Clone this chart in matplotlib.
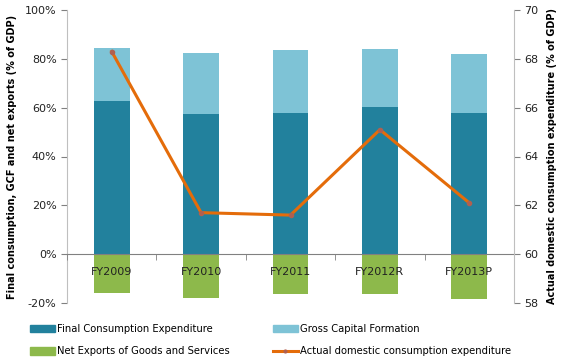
# FY2009-FY2013 GDP composition with actual domestic consumption on twin axis
import matplotlib.pyplot as plt
import numpy as np
from matplotlib.patches import Patch
from matplotlib.lines import Line2D

plt.rcParams['font.family'] = ['DejaVu Sans']

years = ['FY2009', 'FY2010', 'FY2011', 'FY2012R', 'FY2013P']
final_cons = [62.8, 57.4, 57.9, 60.4, 57.9]      # % of GDP
gross_cap = [21.7, 24.9, 25.7, 23.6, 24.1]       # % of GDP
net_exports = [-15.9, -17.9, -16.4, -16.4, -18.3]  # % of GDP
actual_dom = [68.3, 61.7, 61.6, 65.1, 62.1]      # right axis

c_fce = '#22819d'
c_gcf = '#7ec3d6'
c_nx = '#8db94b'
c_line = '#e46c0a'
grey = '#bfbfbf'

fig = plt.figure(figsize=(5.68, 3.6), dpi=100)
ax = fig.add_axes([67/568, 1-303/360, (514-67)/568, (303-10)/360])
ax2 = ax.twinx()

x = np.arange(len(years))
w = 0.4
ax.bar(x, final_cons, w, color=c_fce, zorder=2)
ax.bar(x, gross_cap, w, bottom=final_cons, color=c_gcf, zorder=2)
ax.bar(x, net_exports, w, color=c_nx, zorder=2)

ax.set_xlim(-0.5, len(years)-0.5)
ax.set_ylim(-20, 100)
ax.set_yticks(np.arange(-20, 101, 20))
ax.set_yticklabels([f'{v}%' for v in range(-20, 101, 20)])

# x axis sits on the zero line
ax.spines['bottom'].set_position(('data', 0))
ax.spines['bottom'].set_color('#808080')
ax.spines['bottom'].set_zorder(3)
ax.spines['top'].set_visible(False)
ax.spines['left'].set_color(grey)
ax.spines['right'].set_visible(False)
ax.set_xticks(x)
ax.set_xticklabels(years)
ax.set_xticks(np.arange(-0.5, len(years), 1), minor=True)
ax.tick_params(axis='x', which='major', length=0, pad=9, labelsize=8, colors='#222222')
ax.tick_params(axis='x', which='minor', length=4, color='#808080', direction='out')
ax.tick_params(axis='y', length=4, color='#808080', labelsize=8, colors='#222222')
ax.xaxis.set_zorder(5)

ax2.plot(x, actual_dom, color=c_line, lw=2.2, marker='o', ms=3,
         mfc='#b06050', mec='#b06050', zorder=4)
ax2.set_ylim(58, 70)
ax2.set_yticks(np.arange(58, 71, 2))
for s in ['top', 'bottom', 'left']:
    ax2.spines[s].set_visible(False)
ax2.spines['right'].set_color(grey)
ax2.tick_params(axis='y', length=4, color='#808080', labelsize=8, colors='#222222')

ax.set_ylabel('Final consumption, GCF and net exports (% of GDP)',
              fontsize=7, fontweight='bold', labelpad=6)
ax2.set_ylabel('Actual domestic consumption expenditure (% of GDP)',
               fontsize=7, fontweight='bold', labelpad=6)

handles = [Patch(color=c_fce), Patch(color=c_nx), Patch(color=c_gcf),
           Line2D([], [], color=c_line, lw=2.2, marker='o', ms=2,
                  mfc='#b06050', mec='#b06050')]
labels = ['Final Consumption Expenditure', 'Net Exports of Goods and Services',
          'Gross Capital Formation', 'Actual domestic consumption expenditure']
fig.legend(handles, labels, ncol=2, frameon=False, fontsize=7.2,
           loc='lower left', bbox_to_anchor=(21/568, -0.015),
           handlelength=2.5, handleheight=0.8, handletextpad=0.2,
           columnspacing=4.3, labelspacing=1.25)

fig.savefig('out.png', dpi=100)
